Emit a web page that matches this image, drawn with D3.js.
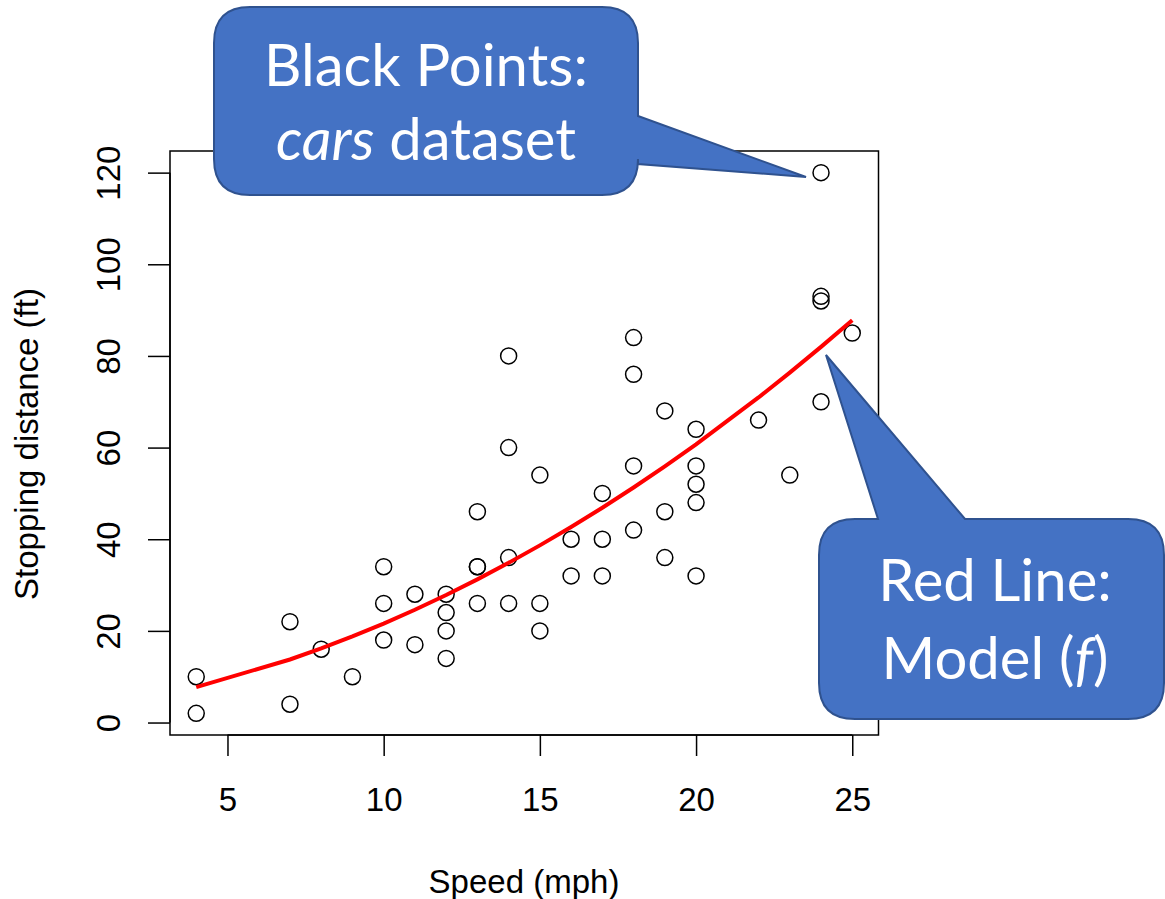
<!DOCTYPE html>
<html>
<head>
<meta charset="utf-8">
<script src="https://cdn.jsdelivr.net/npm/d3@7"></script>
<style>
  html, body { margin: 0; padding: 0; background: #fff; }
  svg { display: block; }
</style>
</head>
<body>
<svg id="chart" width="1165" height="899"></svg>
<script>
// ---- data: cars dataset ----
const speed = [4,4,7,7,8,9,10,10,10,11,11,12,12,12,12,13,13,13,13,14,14,14,14,15,15,15,16,16,17,17,17,18,18,18,18,19,19,19,20,20,20,20,20,22,23,24,24,24,24,25];
const dist  = [2,10,4,22,16,10,18,26,34,17,28,14,20,24,28,26,34,34,46,26,36,60,80,20,26,54,32,40,32,40,50,42,56,76,84,36,46,68,32,48,52,56,64,66,54,70,92,93,120,85];

// ---- model line ----
const fitSpeed = [4,7,8,9,10,11,12,13,14,15,16,17,18,19,20,22,23,24,25];
const fitDist  = [7.72,13.76,16.17,18.79,21.60,24.61,27.82,31.24,34.85,38.66,42.67,46.88,51.30,55.91,60.72,70.94,76.36,81.97,87.78];

// ---- axes ----
const xTicks = [5,10,15,20,25];
const yTicks = [0,20,40,60,80,100,120];
const xTitle = "Speed (mph)";
const yTitle = "Stopping distance (ft)";

// ---- callouts ----
const callout1Lines = [["Black Points:"], ["cars", " dataset"]];
const callout2Lines = [["Red Line:"], ["Model (", "f", ")"]];

const svg = d3.select("#chart");
const box = {left: 170, right: 878.5, top: 151, bottom: 735};

const x = d3.scaleLinear().domain([3.16, 25.84]).range([box.left, box.right]);
const y = d3.scaleLinear().domain([-2.72, 124.72]).range([box.bottom, box.top]);

const axisFont = "'Liberation Sans', Arial, Helvetica, sans-serif";

// box
svg.append("rect")
  .attr("x", box.left).attr("y", box.top)
  .attr("width", box.right - box.left).attr("height", box.bottom - box.top)
  .attr("fill", "none").attr("stroke", "#000").attr("stroke-width", 1.5);

// x axis
const gx = svg.append("g").attr("transform", `translate(0,${box.bottom})`)
  .call(d3.axisBottom(x).tickValues(xTicks).tickSize(21).tickPadding(32).tickFormat(d3.format("d")));
gx.select(".domain").attr("d", `M${x(5)},0H${x(25)}`).attr("stroke-width", 1.5);
gx.selectAll(".tick line").attr("stroke-width", 1.5);
gx.selectAll(".tick text").attr("font-family", axisFont).attr("font-size", 33).attr("fill", "#000");

// y axis
const gy = svg.append("g").attr("transform", `translate(${box.left},0)`)
  .call(d3.axisLeft(y).tickValues(yTicks).tickSize(22).tickPadding(0).tickFormat(d3.format("d")));
gy.select(".domain").attr("d", `M0,${y(0)}V${y(120)}`).attr("stroke-width", 1.5);
gy.selectAll(".tick line").attr("stroke-width", 1.5);
gy.selectAll(".tick text")
  .attr("font-family", axisFont).attr("font-size", 33).attr("fill", "#000")
  .attr("x", null).attr("dy", null)
  .attr("text-anchor", "middle")
  .attr("transform", "translate(-50,0) rotate(-90)");

// titles
svg.append("text").attr("x", 524).attr("y", 893)
  .attr("text-anchor", "middle").attr("font-family", axisFont).attr("font-size", 33)
  .text(xTitle);
svg.append("text").attr("transform", "translate(38,444) rotate(-90)")
  .attr("text-anchor", "middle").attr("font-family", axisFont).attr("font-size", 33)
  .text(yTitle);

// points
svg.append("g").selectAll("circle")
  .data(speed.map((s, i) => [s, dist[i]]))
  .join("circle")
  .attr("cx", d => x(d[0])).attr("cy", d => y(d[1])).attr("r", 8)
  .attr("fill", "none").attr("stroke", "#000").attr("stroke-width", 1.5);

// model line
svg.append("path")
  .datum(fitSpeed.map((s, i) => [s, fitDist[i]]))
  .attr("d", d3.line().x(d => x(d[0])).y(d => y(d[1])))
  .attr("fill", "none").attr("stroke", "#ff0000").attr("stroke-width", 4);

// callout helper: rounded rect with wedge
function callout(r, wedge, lines, baselines, cx, fontSize) {
  const {x0, y0, x1, y1, rad} = r;
  let p = "";
  p += `M${x0 + rad},${y0}`;
  if (wedge.side === "top") {
    p += `L${wedge.a},${y0}L${wedge.tx},${wedge.ty}L${wedge.b},${y0}`;
  }
  p += `L${x1 - rad},${y0}Q${x1},${y0} ${x1},${y0 + rad}`;
  if (wedge.side === "right") {
    p += `L${x1},${wedge.a}L${wedge.tx},${wedge.ty}L${x1},${wedge.b}`;
  }
  p += `L${x1},${y1 - rad}Q${x1},${y1} ${x1 - rad},${y1}`;
  p += `L${x0 + rad},${y1}Q${x0},${y1} ${x0},${y1 - rad}`;
  p += `L${x0},${y0 + rad}Q${x0},${y0} ${x0 + rad},${y0}Z`;
  svg.append("path").attr("d", p)
    .attr("fill", "#4472C4").attr("stroke", "#2F528F").attr("stroke-width", 2);
  lines.forEach((parts, i) => {
    const t = svg.append("text").attr("x", cx).attr("y", baselines[i])
      .attr("text-anchor", "middle").attr("fill", "#fff")
      .attr("font-family", "Lato, 'Open Sans', sans-serif").attr("font-size", fontSize);
    parts.forEach(s => {
      const italic = (s === "cars" || s === "f");
      t.append("tspan").attr("font-style", italic ? "italic" : "normal").text(s);
    });
  });
}

callout({x0: 214, y0: 7, x1: 638, y1: 195, rad: 36},
  {side: "right", a: 116, b: 164, tx: 806, ty: 177},
  callout1Lines, [86, 160], 426, 58);

callout({x0: 819, y0: 519, x1: 1164, y1: 719, rad: 36},
  {side: "top", a: 878, b: 965, tx: 826, ty: 355},
  callout2Lines, [601, 679], 995, 58);
</script>
</body>
</html>
